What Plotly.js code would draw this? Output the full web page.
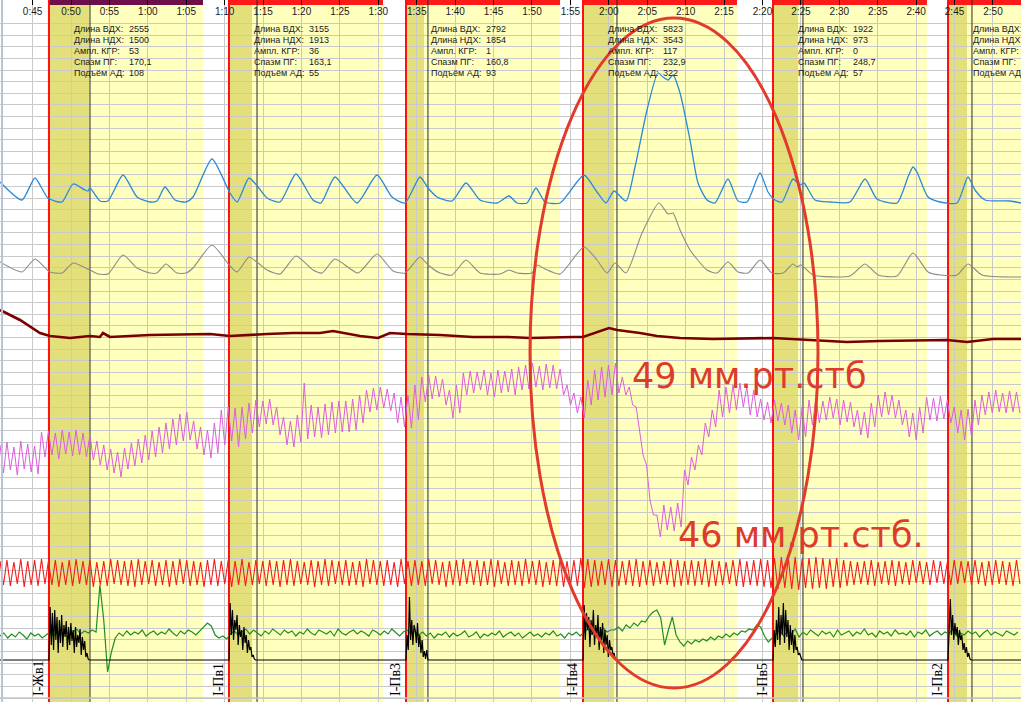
<!DOCTYPE html>
<html><head><meta charset="utf-8">
<script src="https://cdn.plot.ly/plotly-3.0.1.min.js"></script>
<style>html,body{margin:0;padding:0;background:#fff;overflow:hidden}#chart{width:1021px;height:702px}</style>
</head><body><div id="chart"></div>
<script>
// ---------- DATA ----------
const tickVals = [45,50,55,60,65,70,75,80,85,90,95,100,105,110,115,120,125,130,135,140,145,150,155,160,165,170];
const tickText = ["0:45","0:50","0:55","1:00","1:05","1:10","1:15","1:20","1:25","1:30","1:35","1:40","1:45","1:50","1:55","2:00","2:05","2:10","2:15","2:20","2:25","2:30","2:35","2:40","2:45","2:50"];

const stimStart = [47.13, 70.56, 93.60, 116.64, 141.37, 164.15];
const stimEnd = [67.18, 90.61, 113.65, 136.68, 161.41, 180.00];
const answerEnd = [52.34, 73.56, 95.94, 120.67, 144.62, 166.62];
const markTime = [52.47, 74.21, 96.46, 121.06, 145.27, 167.27];
const questionLabels = ["I-Жв1", "I-Пв1", "I-Пв3", "I-Пв4", "I-Пв5", "I-Пв2"];
const statNames = ["Длина ВДХ:", "Длина НДХ:", "Ампл. КГР:", "Спазм ПГ:", "Подъём АД:"];
const statValues = [
  ["2555", "1500", "53", "170,1", "108"],
  ["3155", "1913", "36", "163,1", "55"],
  ["2792", "1854", "1", "160,8", "93"],
  ["5823", "3543", "117", "232,9", "322"],
  ["1922", "973", "0", "248,7", "57"],
  ["", "", "", "", ""]
];
const noteHigh = "49 мм.рт.стб";
const noteLow = "46 мм.рт.стб.";

// upper breathing (ВДХ)
const breathUpperT = [40.76,43.62,45.31,47.00,48.83,50.26,51.82,52.21,52.47,53.77,54.81,56.77,58.59,60.28,61.19,62.23,63.53,64.97,65.88,68.35,70.69,71.61,73.17,74.34,75.51,77.20,79.28,81.50,82.54,84.36,87.22,89.83,91.78,93.47,95.42,96.47,97.64,99.59,101.41,103.23,105.45,107.01,108.05,109.35,110.52,111.69,113.65,116.77,118.46,119.63,120.68,122.24,123.41,124.97,126.40,127.06,127.71,128.35,129.27,130.57,131.61,132.78,133.82,135.51,136.82,137.99,139.68,140.72,141.63,142.54,143.97,144.89,145.41,146.84,148.79,151.39,153.35,154.91,157.51,158.94,159.59,160.11,161.55,163.11,165.32,166.75,167.66,168.97,172.22,173.65];
const breathUpperV = [33,15,37,17,13,31,25,24,27,14,14,40,18,13,14,28,15,13,18,56,22,13,37,28,17,13,41,15,12,38,12,40,18,12,38,27,18,14,32,15,12,19,12,12,27,13,12,40,23,12,24,14,48,105,142,138,135,140,122,75,32,15,12,36,14,13,42,23,15,13,36,30,32,15,13,13,36,16,12,38,48,43,18,13,12,38,25,15,14,12];

// lower breathing (НДХ)
const breathLowerT = [40.76,43.62,45.31,47.26,48.83,50.26,52.47,53.51,54.81,56.77,58.59,60.28,61.19,62.36,63.79,64.97,65.88,68.35,70.69,71.61,73.17,74.34,75.51,77.20,79.28,81.50,82.67,84.36,87.36,89.83,91.91,93.47,95.42,96.47,98.03,99.59,101.41,103.23,105.84,107.01,108.05,110.00,110.66,111.69,113.65,116.77,118.46,119.77,120.81,122.24,124.32,126.53,127.71,128.35,129.27,130.57,132.78,134.08,135.51,136.82,138.12,139.68,141.24,142.67,143.97,144.49,145.02,146.58,151.39,153.35,155.04,157.51,159.59,161.55,163.11,165.32,166.75,168.58,173.65];
const breathLowerV = [23,13,26,13,12,22,15,11,11,30,17,12,12,21,12,12,17,40,19,13,28,22,15,11,29,15,12,26,12,31,14,12,28,20,12,10,25,12,11,15,12,12,20,16,11,38,25,12,22,12,52,82,71,72,55,35,15,12,23,13,12,25,12,12,21,18,20,10,9,21,10,9,32,13,10,10,21,10,8];

// skin conductance (КГР)
const gsrT = [40.76,43.36,45.96,47.26,49.87,52.47,53.77,54.16,55.07,60.28,68.09,70.69,75.51,78.89,82.41,84.10,87.62,89.96,91.52,93.73,98.03,102.32,106.75,109.74,115.34,116.64,120.02,121.07,124.06,126.27,129.27,133.56,141.37,146.58,150.99,155.30,164.02,166.62,170.01,173.65];
const gsrV = [35,25,12,9,7,9,8,12,8,10,11,9,11,12,12,14,9,7,12,11,10,8,8,7,8,8,17,15,12,9,7,6,7,5,3,4,5,3,6,6];

// plethysmogram (ПГ): one peak and one trough per pulse beat
const beatT0 = 40.76;
const halfBeat = 0.45;
const plethPeak = [100,103,98,104,101,99,113,114,112,115,
 113,115,112,110,104,100,96,93,97,102,
 106,110,114,118,122,126,131,133,124,118,
 115,122,135,138,137,138,142,145,144,146,
 138,128,124,130,162,140,138,141,143,144,
 144,146,150,155,157,158,156,152,148,150,
 160,168,170,169,166,155,160,172,174,173,
 175,172,175,174,176,178,180,182,179,181,
 180,176,160,152,148,165,175,178,180,182,
 168,158,138,90,45,30,40,38,42,75,
 88,100,122,135,155,158,160,162,158,155,
 146,143,145,142,140,135,138,145,147,144,
 148,146,145,143,135,133,142,150,153,150,
 145,135,132,138,148,147,149,145,138,135,
 136,145,150,153,155,152,154,153];
const plethTrough = [72,75,70,76,73,71,88,90,86,91,
 89,90,88,85,80,75,72,68,76,79,
 82,85,88,92,96,100,104,105,96,90,
 87,92,100,104,98,106,112,118,121,120,
 110,100,98,103,106,108,107,110,112,113,
 113,115,122,133,135,137,134,122,118,117,
 125,143,146,148,140,127,132,150,152,155,
 150,148,152,153,150,155,156,158,155,157,
 156,150,140,132,127,140,145,148,150,152,
 150,140,115,80,30,8,15,14,18,60,
 75,90,108,118,128,132,135,138,130,128,
 125,122,124,120,112,105,108,120,122,125,
 127,120,123,118,110,107,118,128,130,127,
 120,108,105,112,125,124,126,122,112,105,
 108,120,130,132,133,132,133,132];

// pulse channel (red)
const pulsePeak = [34,35,33,36,34,35,36,34,35,33,
 35,36,34,35,33,34,36,35,34,35,
 36,34,35,33,35,34,36,35,34,33,
 35,36,34,35,34,36,33,35,34,35,
 34,35,36,34,33,35,34,36,35,34,
 35,33,34,36,35,34,35,33,36,34,
 35,34,36,35,33,34,35,36,34,35,
 34,36,35,33,35,34,36,34,35,33,
 35,36,34,35,37,36,35,34,36,35,
 34,35,36,34,35,33,34,36,35,34,
 35,34,36,35,34,33,35,36,34,35,
 36,35,37,38,37,38,36,37,38,37,
 36,37,35,34,33,34,35,33,34,35,
 34,33,35,34,33,35,34,33,35,34,
 34,35,33,34,35,34,33,35];
const pulseTrough = [10,9,11,8,10,9,11,10,8,10,
 9,11,10,8,10,9,11,10,9,8,
 10,11,9,10,8,10,11,9,10,8,
 10,9,11,8,10,9,10,11,9,10,
 8,10,9,11,10,8,10,9,11,10,
 9,10,8,11,10,9,10,8,11,9,
 10,9,11,10,8,10,9,11,10,9,
 10,8,11,9,10,9,11,10,8,10,
 9,8,10,9,7,8,9,10,8,9,
 10,9,8,10,9,11,10,8,9,10,
 9,10,8,9,10,11,9,8,10,9,
 8,7,6,7,6,5,7,6,7,6,
 8,7,9,10,11,10,9,11,10,9,
 11,10,12,11,10,12,11,10,11,12,
 10,11,9,10,11,10,9,11];

// tremor channel (green), sampled every 0.5 s
const tremorT0 = 40.76;
const tremorDt = 0.5;
const tremorV = [24,27,22,26,23,28,25,21,27,24,26,22,25,
 28,24,29,26,30,25,28,31,26,29,27,30,
 28,75,40,-12,8,22,
 27,24,29,25,28,26,30,24,27,29,25,28,26,31,27,24,29,26,30,28,25,29,33,37,
 34,25,22,24,21,26,
 29,25,28,31,26,30,27,24,29,26,31,28,25,30,27,29,24,28,26,31,27,25,30,28,26,29,24,31,27,25,28,30,26,29,27,24,30,28,25,29,26,31,27,24,28,30,26,29,25,28,
 24,27,22,26,25,28,23,27,24,26,29,23,25,28,22,26,24,27,25,29,23,26,28,24,27,22,25,28,24,26,23,27,25,29,24,26,22,27,25,28,24,
 28,31,26,30,27,32,28,30,
 30,33,29,35,32,37,34,39,38,
 44,48,50,42,15,
 30,43,25,
 18,14,19,16,20,
 18,21,19,23,20,24,22,26,23,27,25,29,28,31,30,
 35,33,24,18,
 22,27,30,24,29,26,31,23,28,25,30,27,24,29,26,28,23,30,25,27,29,24,28,26,31,25,27,23,29,26,28,24,30,26,27,25,29,23,28,26,30,24,27,29,25,28,26,31,24,27,25,29,26,28,23,27,30,25,28,26,24,29,27,25,28];

// movement channel (black): flat baseline with bursts after each question
const motionBaseline = 5;
const motionStartT = 40.76, motionEndT = 173.65;
const motionBurstDt = 0.15;
const motionBursts = [
 [5,58,20,52,15,55,25,48,12,45,22,50,18,40,28,44,15,38,20,42,24,35,12,38,18,30,22,36,10,28,15,24,8,12,6,5],
 [5,62,30,55,25,45,35,50,20,40,28,35,15,38,22,30,12,25,15,18,8,10,6,5],
 [5,30,15,68,25,45,20,40,35,22,42,18,30,12,25,8,14,6,15,5],
 [5,60,25,52,35,48,18,45,30,55,20,40,28,50,15,38,25,42,12,35,20,30,8,25,15,18,10,12,6,5],
 [5,35,18,45,25,58,20,50,30,62,22,55,28,45,15,40,20,35,12,30,15,18,10,12,7,5],
 [5,45,66,30,50,25,42,30,38,20,35,25,30,15,22,12,18,8,12,6,5]
];

// ---------- LAYOUT CONSTANTS ----------
const W = 1021, H = 702;
const xRange = [40.757, 173.65];
const rowY = [29, 40, 51, 62, 73];      // px from top for the stat rows
function py(p){ return 1 - p / H; }      // px from top -> paper
// channel zero lines (px from top); 1 unit = 1 px
function chanAxis(zeroPx){ return {overlaying:'y', visible:false, range:[zeroPx - H, zeroPx], fixedrange:true}; }

function interleave(a, b){ const o=[]; for(let i=0;i<a.length;i++){ o.push(a[i]); o.push(b[i]); } return o; }

const motionX = [motionStartT], motionY = [motionBaseline];
motionBursts.forEach((burst, i) => {
  burst.forEach((v, j) => { motionX.push(stimStart[i] + j * motionBurstDt); motionY.push(v); });
});
motionX.push(motionEndT); motionY.push(motionBaseline);

const traces = [
  {x0: beatT0, dx: halfBeat, y: interleave(plethPeak, plethTrough), yaxis:'y5', line:{color:'#dc5edc', width:1}},
  {x0: beatT0, dx: halfBeat, y: interleave(pulsePeak, pulseTrough), yaxis:'y6', line:{color:'#f41c1c', width:1.1}},
  {x0: tremorT0, dx: tremorDt, y: tremorV, yaxis:'y7', line:{color:'#1f8f1f', width:1.2}},
  {x: motionX, y: motionY, yaxis:'y8', line:{color:'#000000', width:1.2}},
  {x: gsrT, y: gsrV, yaxis:'y4', line:{color:'#7a0000', width:2.6}},
  {x: breathLowerT, y: breathLowerV, yaxis:'y3', line:{color:'#8a8a8a', width:1.1, shape:'spline', smoothing:0.6}},
  {x: breathUpperT, y: breathUpperV, yaxis:'y2', line:{color:'#2a8ad8', width:1.3, shape:'spline', smoothing:0.6}}
].map(t => Object.assign({type:'scatter', mode:'lines', hoverinfo:'skip', showlegend:false}, t));

const shapes = [];
// light yellow stimulus bands
stimStart.forEach((s,i) => shapes.push({type:'rect', xref:'x', yref:'paper', x0:s, x1:stimEnd[i], y0:0, y1:1, fillcolor:'#ffffbe', line:{width:0}, layer:'below'}));
// darker answer bands
stimStart.forEach((s,i) => shapes.push({type:'rect', xref:'x', yref:'paper', x0:s, x1:answerEnd[i], y0:0, y1:1, fillcolor:'#e3e07c', line:{width:0}, layer:'below'}));
// top bars
stimStart.forEach((s,i) => shapes.push({type:'rect', xref:'x', yref:'y', x0:s, x1:stimEnd[i], y0:H-5, y1:H, fillcolor: i===0 ? '#6e0f4c' : '#ff1a1a', line:{width:0}, layer:'between'}));
// answer marks (black) and question onsets (red)
markTime.forEach(t => shapes.push({type:'line', xref:'x', yref:'y', x0:t, x1:t, y0:0, y1:H, line:{color:'#2a2a2a', width:1}, layer:'between'}));
stimStart.forEach(t => shapes.push({type:'line', xref:'x', yref:'y', x0:t, x1:t, y0:0, y1:H, line:{color:'#ff1010', width:2}, layer:'between'}));
// borders
shapes.push({type:'line', xref:'paper', yref:'paper', x0:0.002, x1:0.002, y0:0, y1:1, line:{color:'#b9c3d6', width:2}, layer:'above'});
shapes.push({type:'line', xref:'paper', yref:'paper', x0:0, x1:1, y0:py(698), y1:py(698), line:{color:'#c4c4c4', width:1.5}, layer:'above'});
// highlight ellipse
shapes.push({type:'circle', xref:'x', yref:'y', x0:109.74, x1:147.23, y0:14, y1:684, line:{color:'#e23b2c', width:3}, layer:'above'});

const annotations = [];
stimStart.forEach((s,b) => {
  statNames.forEach((name,r) => {
    annotations.push({x:s, xref:'x', xshift:23, xanchor:'left', y:py(rowY[r]), yref:'paper', yanchor:'middle', text:name, showarrow:false, font:{family:'Liberation Sans, Arial', size:9, color:'#1a1a1a'}});
    if (statValues[b][r]) annotations.push({x:s, xref:'x', xshift:78, xanchor:'left', y:py(rowY[r]), yref:'paper', yanchor:'middle', text:statValues[b][r], showarrow:false, font:{family:'Liberation Sans, Arial', size:9, color:'#1a1a1a'}});
  });
  annotations.push({x:s, xref:'x', xshift:-1, xanchor:'right', y:py(698), yref:'paper', yanchor:'bottom', text:questionLabels[b], textangle:-90, showarrow:false, font:{family:'Liberation Serif, Times New Roman, serif', size:14, color:'#000'}});
});
annotations.push({x:122.76, xref:'x', xanchor:'left', y:py(376), yref:'paper', yanchor:'middle', text:noteHigh, showarrow:false, font:{family:'DejaVu Sans', size:35, color:'#dd3b2b'}});
annotations.push({x:128.75, xref:'x', xanchor:'left', y:py(535), yref:'paper', yanchor:'middle', text:noteLow, showarrow:false, font:{family:'DejaVu Sans', size:35, color:'#dd3b2b'}});

const layout = {
  width:W, height:H, margin:{l:0,r:0,t:0,b:0,pad:0},
  paper_bgcolor:'#ffffff', plot_bgcolor:'rgba(0,0,0,0)', showlegend:false,
  xaxis:{range:xRange, side:'top', tickmode:'array', tickvals:tickVals, ticktext:tickText, ticks:'inside', ticklen:5, tickwidth:1, tickcolor:'#000',
         ticklabelposition:'inside', ticklabelstandoff:2, tickfont:{family:'Liberation Sans, Arial', size:10, color:'#1a1a1a'},
         showgrid:true, gridcolor:'#c9c9c9', gridwidth:1, zeroline:false, showline:false, automargin:false, fixedrange:true},
  yaxis:{range:[0,H], tick0:3.9, dtick:11.63, showticklabels:false, ticks:'', showgrid:true, gridcolor:'#c9c9c9', gridwidth:1, zeroline:false, showline:false, automargin:false, fixedrange:true},
  yaxis2: chanAxis(215),
  yaxis3: chanAxis(285),
  yaxis4: chanAxis(345),
  yaxis5: chanAxis(545),
  yaxis6: chanAxis(595),
  yaxis7: chanAxis(660),
  yaxis8: chanAxis(665),
  shapes: shapes,
  annotations: annotations
};

Plotly.newPlot('chart', traces, layout, {staticPlot:true, displayModeBar:false});
</script>
</body></html>
